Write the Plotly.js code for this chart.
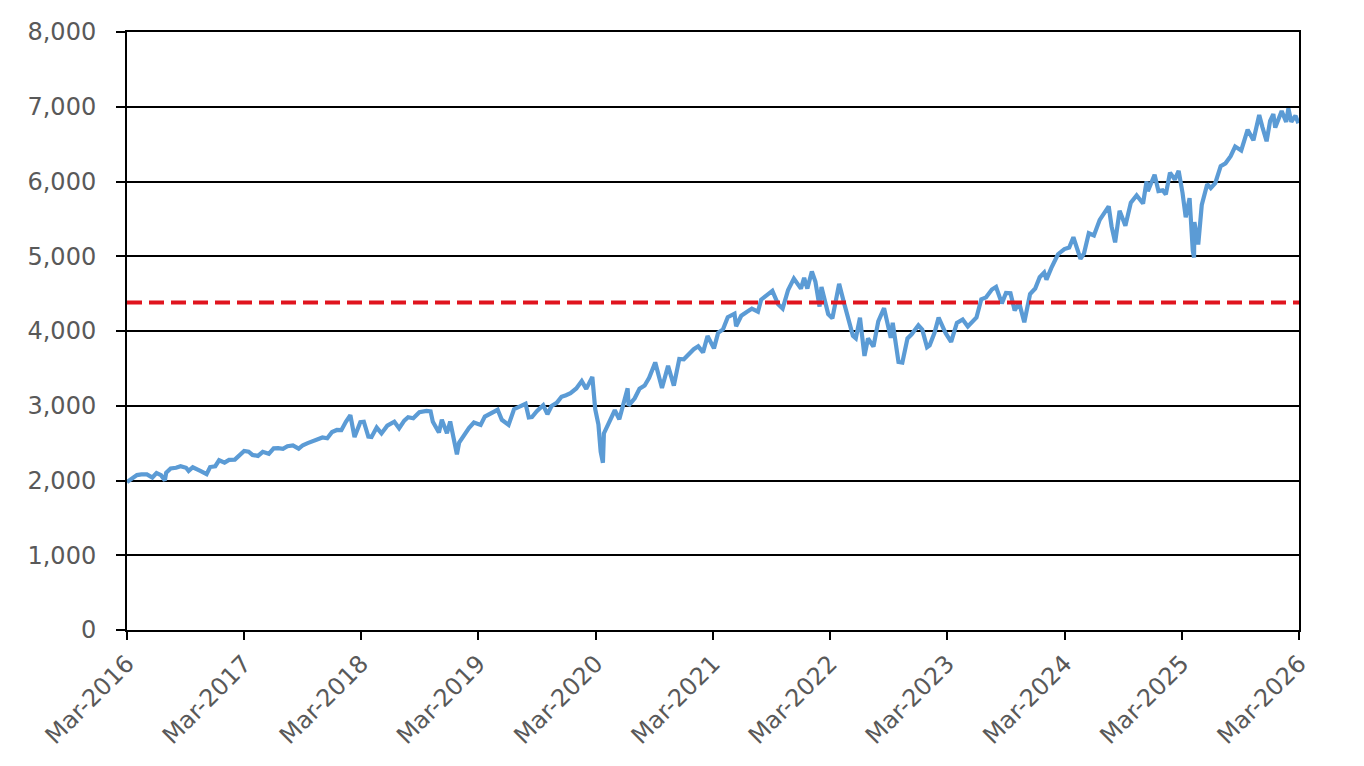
<!DOCTYPE html>
<html>
<head>
<meta charset="utf-8">
<script src="https://cdn.plot.ly/plotly-3.0.1.min.js"></script>
<style>
  html, body { margin: 0; padding: 0; background: #fff; }
  #chart { width: 1364px; height: 766px; }
</style>
</head>
<body>
<div id="chart"></div>
<script>
// index level (roughly twice a month, plus the turning points)
const dates = [
  '2016-03-01','2016-03-15','2016-04-01','2016-04-15','2016-05-02','2016-05-19','2016-06-01','2016-06-15','2016-06-27',
  '2016-07-01','2016-07-15','2016-08-01','2016-08-15','2016-09-01','2016-09-09','2016-09-22','2016-10-03','2016-10-17',
  '2016-11-04','2016-11-15','2016-12-01','2016-12-13','2016-12-30',
  '2017-01-13','2017-01-31','2017-02-15','2017-03-01','2017-03-15','2017-03-27','2017-04-13','2017-04-28','2017-05-17',
  '2017-06-01','2017-06-15','2017-06-30','2017-07-14','2017-07-31','2017-08-18','2017-08-31','2017-09-15','2017-09-29',
  '2017-10-16','2017-10-31','2017-11-15','2017-11-30','2017-12-15','2017-12-29',
  '2018-01-12','2018-01-26','2018-02-08','2018-02-26','2018-03-09','2018-03-23','2018-04-02','2018-04-18','2018-05-03',
  '2018-05-21','2018-06-12','2018-06-27','2018-07-13','2018-07-25','2018-08-10','2018-08-29','2018-09-20','2018-10-03',
  '2018-10-10','2018-10-29','2018-11-07','2018-11-23','2018-12-03','2018-12-24','2018-12-31',
  '2019-01-15','2019-01-31','2019-02-15','2019-03-08','2019-03-21','2019-04-15','2019-04-30','2019-05-13','2019-06-03',
  '2019-06-20','2019-07-15','2019-07-26','2019-08-05','2019-08-15','2019-08-30','2019-09-19','2019-10-02','2019-10-15',
  '2019-10-31','2019-11-15','2019-11-29','2019-12-13','2019-12-31',
  '2020-01-17','2020-01-31','2020-02-19','2020-02-28','2020-03-09','2020-03-16','2020-03-23','2020-03-26','2020-04-08',
  '2020-04-29','2020-05-13','2020-06-08','2020-06-11','2020-06-30','2020-07-15','2020-07-31','2020-08-14','2020-09-02',
  '2020-09-23','2020-10-12','2020-10-30','2020-11-16','2020-11-30','2020-12-15','2020-12-31',
  '2021-01-14','2021-01-29','2021-02-12','2021-03-04','2021-03-17','2021-04-01','2021-04-16','2021-05-07','2021-05-12',
  '2021-05-28','2021-06-14','2021-06-30','2021-07-19','2021-07-29','2021-08-16','2021-08-31','2021-09-02','2021-09-20',
  '2021-10-04','2021-10-21','2021-11-08','2021-11-30','2021-12-10','2021-12-20',
  '2022-01-03','2022-01-14','2022-01-27','2022-02-02','2022-02-23','2022-03-08','2022-03-29','2022-04-11','2022-04-29',
  '2022-05-11','2022-05-20','2022-06-02','2022-06-16','2022-06-27','2022-07-14','2022-07-29','2022-08-16','2022-09-06',
  '2022-09-12','2022-09-30','2022-10-12','2022-10-28','2022-11-10','2022-12-01','2022-12-13','2022-12-28',
  '2023-01-05','2023-01-20','2023-02-02','2023-02-24','2023-03-13','2023-03-31','2023-04-18','2023-05-04','2023-05-31',
  '2023-06-15','2023-06-30','2023-07-18','2023-07-31','2023-08-18','2023-08-31','2023-09-14','2023-09-27','2023-10-11',
  '2023-10-27','2023-11-14','2023-11-30','2023-12-14','2023-12-28',
  '2024-01-04','2024-01-19','2024-02-09','2024-02-29','2024-03-15','2024-03-28','2024-04-19','2024-04-30','2024-05-15',
  '2024-05-31','2024-06-18','2024-07-16','2024-07-25','2024-08-05','2024-08-19','2024-09-06','2024-09-23','2024-10-11',
  '2024-10-31','2024-11-11','2024-11-15','2024-12-06','2024-12-18','2024-12-31',
  '2025-01-10','2025-01-23','2025-02-07','2025-02-19','2025-03-03','2025-03-13','2025-03-25','2025-04-04','2025-04-08',
  '2025-04-09','2025-04-21','2025-05-02','2025-05-19','2025-05-30','2025-06-13','2025-06-30','2025-07-15','2025-07-31',
  '2025-08-14','2025-09-02','2025-09-22','2025-10-10','2025-10-28','2025-11-07','2025-11-20','2025-12-01','2025-12-11',
  '2025-12-17','2026-01-06','2026-01-20','2026-01-27','2026-02-05','2026-02-12','2026-02-18','2026-02-27'
];
const indexLevel = [
  1978,2016,2072,2081,2081,2040,2100,2071,2000,
  2103,2161,2170,2190,2170,2128,2177,2161,2126,
  2085,2180,2191,2271,2239,
  2275,2279,2349,2396,2385,2342,2329,2384,2357,
  2431,2433,2423,2459,2470,2426,2472,2500,2519,
  2557,2575,2565,2648,2676,2674,
  2786,2873,2581,2780,2786,2588,2582,2708,2630,
  2733,2787,2699,2801,2846,2833,2914,2931,2925,
  2785,2641,2814,2633,2790,2351,2507,
  2610,2704,2775,2743,2855,2906,2946,2812,2744,
  2954,3014,3026,2844,2848,2926,3006,2887,2996,
  3038,3120,3141,3168,3231,
  3330,3226,3386,2954,2747,2386,2237,2630,2750,
  2940,2820,3232,3002,3100,3227,3271,3373,3580,
  3237,3534,3270,3627,3622,3695,3756,
  3795,3714,3934,3768,3975,4020,4185,4232,4063,
  4204,4255,4298,4258,4419,4479,4523,4537,4358,
  4300,4549,4701,4567,4712,4568,
  4797,4663,4327,4589,4226,4170,4631,4413,4132,
  3935,3901,4177,3667,3900,3790,4130,4305,3908,
  4110,3586,3577,3901,3956,4076,4019,3783,
  3808,3972,4179,3970,3855,4109,4154,4061,4180,
  4425,4450,4555,4589,4370,4508,4505,4274,4376,
  4117,4495,4568,4719,4783,
  4688,4840,5027,5096,5117,5254,4967,5036,5308,
  5278,5487,5667,5399,5186,5608,5408,5718,5815,
  5705,6001,5870,6090,5872,5882,
  5827,6119,6026,6144,5850,5522,5777,5074,4983,
  5457,5158,5686,5964,5912,5977,6205,6243,6339,
  6468,6415,6693,6552,6890,6728,6538,6812,6901,
  6721,6944,6796,6978,6798,6833,6881,6780
];
// dashed reference level
const refLevel = 4380;

const tickDates = ['2016-03-01','2017-03-01','2018-03-01','2019-03-01','2020-03-01','2021-03-01',
                   '2022-03-01','2023-03-01','2024-03-01','2025-03-01','2026-03-01'];
const tickLabels = ['Mar-2016','Mar-2017','Mar-2018','Mar-2019','Mar-2020','Mar-2021',
                    'Mar-2022','Mar-2023','Mar-2024','Mar-2025','Mar-2026'];

const xStart = tickDates[0];
const xEnd = tickDates[tickDates.length - 1];

const traces = [
  {
    x: dates,
    y: indexLevel,
    type: 'scatter',
    mode: 'lines',
    line: { color: '#5B9BD5', width: 4.2 },
    hoverinfo: 'x+y'
  },
  {
    x: [xStart, xEnd],
    y: [refLevel, refLevel],
    type: 'scatter',
    mode: 'lines',
    line: { color: '#E0141E', width: 4, dash: '15px,7px' },
    hoverinfo: 'y'
  }
];

const axisFont = { family: 'DejaVu Sans, Verdana, sans-serif', size: 24, color: '#595959' };

const layout = {
  width: 1364,
  height: 766,
  margin: { l: 127, r: 65, t: 32, b: 136 },
  paper_bgcolor: '#fff',
  plot_bgcolor: '#fff',
  showlegend: false,
  xaxis: {
    type: 'date',
    range: [xStart, xEnd],
    tickvals: tickDates,
    ticktext: tickLabels,
    tickangle: -45,
    tickfont: axisFont,
    ticks: 'outside',
    ticklen: 8,
    tickwidth: 2,
    tickcolor: '#000',
    showgrid: false,
    zeroline: false,
    showline: true,
    linecolor: '#000',
    linewidth: 2,
    mirror: true
  },
  yaxis: {
    range: [0, 8000],
    dtick: 1000,
    tickformat: ',d',
    tickfont: axisFont,
    ticks: 'outside',
    ticklen: 9,
    tickwidth: 2,
    tickcolor: '#000',
    ticklabelstandoff: 15,
    showgrid: true,
    gridcolor: '#000',
    gridwidth: 2,
    zeroline: false,
    showline: true,
    linecolor: '#000',
    linewidth: 2,
    mirror: true
  }
};

Plotly.newPlot('chart', traces, layout, { displayModeBar: false, staticPlot: true });
</script>
</body>
</html>
